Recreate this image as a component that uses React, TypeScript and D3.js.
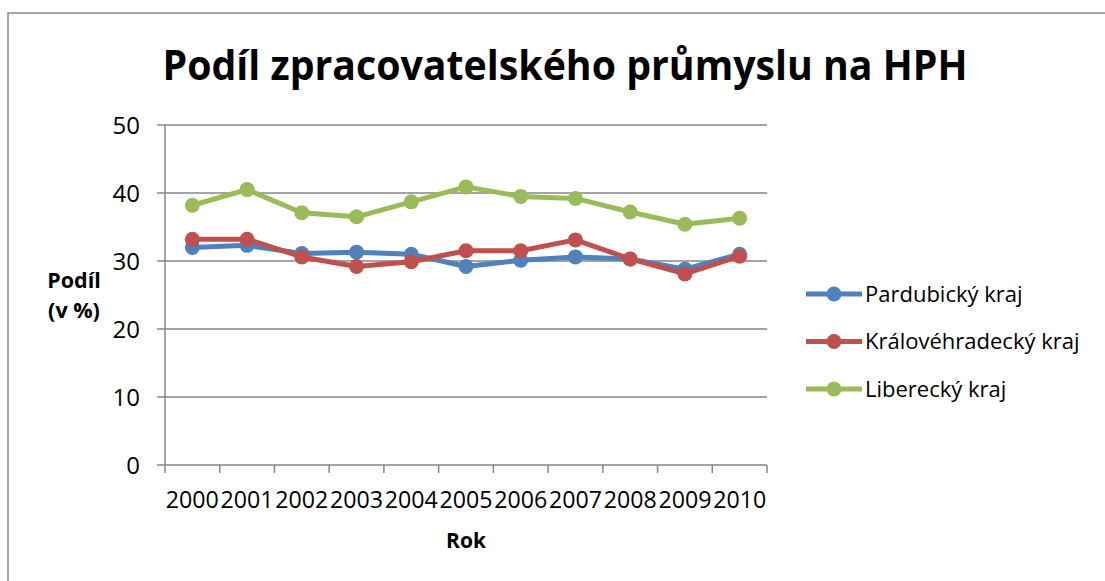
import React from "react";
import * as d3 from "d3";

const years = ["2000", "2001", "2002", "2003", "2004", "2005", "2006", "2007", "2008", "2009", "2010"];
const pardubicky = [32.0, 32.3, 31.1, 31.3, 31.0, 29.2, 30.1, 30.6, 30.3, 28.8, 31.0];
const kralovehradecky = [33.2, 33.2, 30.6, 29.2, 29.9, 31.5, 31.5, 33.1, 30.3, 28.1, 30.7];
const liberecky = [38.2, 40.5, 37.1, 36.5, 38.7, 40.9, 39.5, 39.2, 37.2, 35.4, 36.3];
const yTicks = [0, 10, 20, 30, 40, 50];

const seriesNames = ["Pardubický kraj", "Královéhradecký kraj", "Liberecký kraj"];
const seriesColors = ["#4F81BD", "#C0504D", "#9BBB59"];
const seriesValues = [pardubicky, kralovehradecky, liberecky];

const W = 1105;
const H = 581;
const FONT = "'Open Sans', sans-serif";
const AXIS = "#868686";

export default function App() {
  const plot = { left: 165, right: 767, top: 125, bottom: 465 };

  const x = d3.scaleBand().domain(years).range([plot.left, plot.right]);
  const y = d3.scaleLinear().domain([0, 50]).range([plot.bottom, plot.top]);
  const cx = (yr: string) => (x(yr) as number) + x.bandwidth() / 2;

  const line = d3
    .line<number>()
    .x((_, i) => cx(years[i]))
    .y((d) => y(d));

  // tick boundaries on the category axis
  const bounds = years.map((yr) => x(yr) as number).concat([plot.right]);

  return (
    <svg
      width={W}
      height={H}
      style={{ position: "absolute", left: 0, top: 0, background: "#fff" }}
      fontFamily={FONT}
    >
      <rect x={8} y={13} width={W} height={H} fill="#fff" stroke={AXIS} strokeWidth={1.5} />

      <text
        x={565}
        y={80}
        textAnchor="middle"
        fontSize={42}
        fontWeight="bold"
        textLength={805}
        lengthAdjust="spacingAndGlyphs"
      >
        Podíl zpracovatelského průmyslu na HPH
      </text>

      {/* gridlines */}
      {yTicks.map((t) => (
        <line key={t} x1={plot.left - 8} x2={plot.right} y1={y(t)} y2={y(t)} stroke={AXIS} strokeWidth={1.5} />
      ))}
      {yTicks.map((t) => (
        <text key={"l" + t} x={140} y={y(t)} dy="0.36em" textAnchor="end" fontSize={24}>
          {t}
        </text>
      ))}

      {/* axes */}
      <line x1={plot.left} x2={plot.left} y1={plot.top} y2={plot.bottom} stroke={AXIS} strokeWidth={1.5} />
      {bounds.map((b, i) => (
        <line key={"t" + i} x1={b} x2={b} y1={plot.bottom} y2={plot.bottom + 8} stroke={AXIS} strokeWidth={1.5} />
      ))}
      {years.map((yr) => (
        <text
          key={yr}
          x={cx(yr)}
          y={508}
          textAnchor="middle"
          fontSize={24}
          textLength={53}
          lengthAdjust="spacingAndGlyphs"
        >
          {yr}
        </text>
      ))}

      <text x={466} y={548} textAnchor="middle" fontSize={21} fontWeight="bold">
        Rok
      </text>
      <text x={74} y={288} textAnchor="middle" fontSize={21.5} fontWeight="bold">
        Podíl
      </text>
      <text x={74} y={318} textAnchor="middle" fontSize={21.5} fontWeight="bold">
        (v %)
      </text>

      {/* series */}
      {seriesValues.map((vals, s) => (
        <g key={seriesNames[s]}>
          <path d={line(vals) || ""} fill="none" stroke={seriesColors[s]} strokeWidth={5} strokeLinejoin="round" />
          {vals.map((v, i) => (
            <circle key={i} cx={cx(years[i])} cy={y(v)} r={7.5} fill={seriesColors[s]} />
          ))}
        </g>
      ))}

      {/* legend */}
      {seriesNames.map((name, s) => {
        const ly = 294 + s * 47.5;
        return (
          <g key={"leg" + s}>
            <line x1={806} x2={862} y1={ly} y2={ly} stroke={seriesColors[s]} strokeWidth={5} />
            <circle cx={834} cy={ly} r={7.5} fill={seriesColors[s]} />
            <text x={865} y={ly} dy="0.36em" fontSize={22}>
              {name}
            </text>
          </g>
        );
      })}
    </svg>
  );
}
